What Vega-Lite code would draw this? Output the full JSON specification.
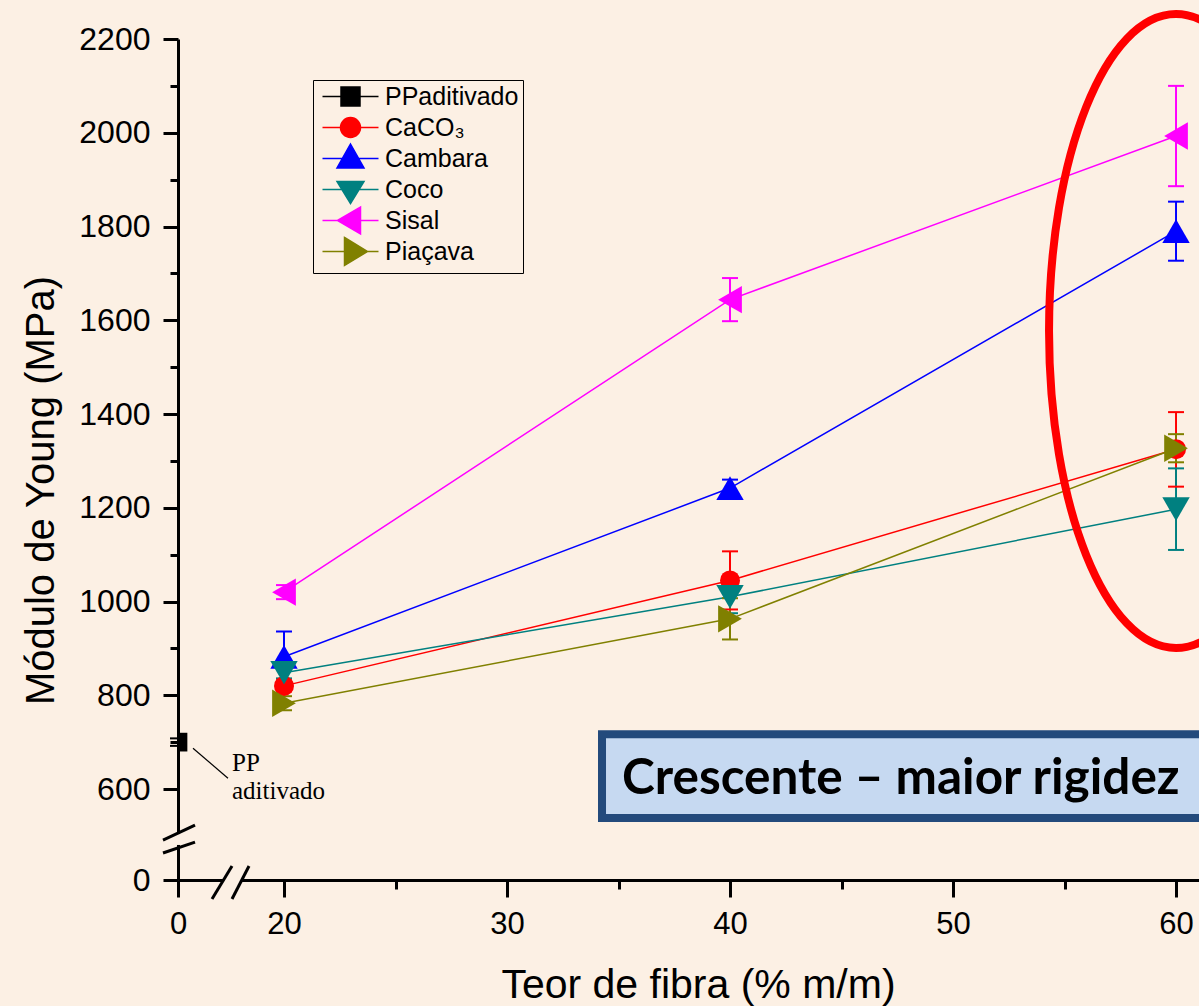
{
  "$schema": "https://vega.github.io/schema/vega-lite/v6.json",
  "width": 1021,
  "height": 841,
  "autosize": {"type": "none"},
  "padding": {"left": 178, "top": 39, "right": 0, "bottom": 126},
  "background": "#fcf0e4",
  "config": {"view": {"stroke": null}, "font": "Liberation Sans", "axis": {"grid": false}},
  "data": {
    "values": [
      {"series": "PPaditivado", "x": 0, "y": 700, "lo": 692, "hi": 708},
      {"series": "CaCO₃", "x": 20, "y": 820, "lo": 808, "hi": 832},
      {"series": "CaCO₃", "x": 40, "y": 1045, "lo": 983, "hi": 1107},
      {"series": "CaCO₃", "x": 60, "y": 1325, "lo": 1245, "hi": 1404},
      {"series": "Cambara", "x": 20, "y": 882, "lo": 828, "hi": 936},
      {"series": "Cambara", "x": 40, "y": 1242, "lo": 1224, "hi": 1260},
      {"series": "Cambara", "x": 60, "y": 1790, "lo": 1727, "hi": 1853},
      {"series": "Coco", "x": 20, "y": 848, "lo": 836, "hi": 860},
      {"series": "Coco", "x": 40, "y": 1010, "lo": 975, "hi": 1045},
      {"series": "Coco", "x": 60, "y": 1197, "lo": 1110, "hi": 1284},
      {"series": "Sisal", "x": 20, "y": 1020, "lo": 1005, "hi": 1035},
      {"series": "Sisal", "x": 40, "y": 1644, "lo": 1598, "hi": 1690},
      {"series": "Sisal", "x": 60, "y": 1993, "lo": 1886, "hi": 2100},
      {"series": "Piaçava", "x": 20, "y": 783, "lo": 768, "hi": 798},
      {"series": "Piaçava", "x": 40, "y": 963, "lo": 919, "hi": 1007},
      {"series": "Piaçava", "x": 60, "y": 1327, "lo": 1297, "hi": 1357}
    ]
  },
  "layer": [
    {
      "mark": {"type": "point", "filled": true, "size": 0, "opacity": 1},
      "encoding": {
        "x": {"field": "x", "type": "quantitative", "scale": {"domain": [0, 20, 61.03], "range": [0, 106, 1021], "nice": false, "zero": false}},
        "y": {"field": "y", "type": "quantitative", "scale": {"domain": [0, 600, 2200], "range": [841, 750, 0], "nice": false, "zero": false}},
        "color": {"field": "series", "type": "nominal",
          "scale": {"domain": ["PPaditivado", "CaCO₃", "Cambara", "Coco", "Sisal", "Piaçava"], "range": ["#000000", "#ff0000", "#0000ff", "#008080", "#ff00ff", "#808000"]},
          "legend": {"title": null, "orient": "none", "legendX": 135, "legendY": 41, "padding": 4, "gridAlign": "all", "strokeColor": "#000000", "fillColor": "#fcf0e4", "symbolSize": 400, "symbolStrokeWidth": 1.5, "symbolOffset": 21, "labelOffset": 22, "labelFont": "Liberation Sans", "labelFontSize": 25, "labelColor": "#000000", "rowPadding": -4}},
        "stroke": {"field": "series", "type": "nominal",
          "scale": {"domain": ["PPaditivado", "CaCO₃", "Cambara", "Coco", "Sisal", "Piaçava"], "range": ["#000000", "#ff0000", "#0000ff", "#008080", "#ff00ff", "#808000"]},
          "legend": {"title": null, "orient": "none", "legendX": 135, "legendY": 41, "padding": 4, "gridAlign": "all", "strokeColor": "#000000", "fillColor": "#fcf0e4", "symbolSize": 400, "symbolStrokeWidth": 1.5, "symbolOffset": 21, "labelOffset": 22, "labelFont": "Liberation Sans", "labelFontSize": 25, "labelColor": "#000000", "rowPadding": -4}},
        "shape": {"field": "series", "type": "nominal",
          "scale": {"domain": ["PPaditivado", "CaCO₃", "Cambara", "Coco", "Sisal", "Piaçava"],
            "range": [
              "M0,-1.45L0,-1.45M0,1.45L0,1.45M-2.8,0H2.8M-0.95,-0.95H0.95V0.95H-0.95Z",
              "M0,-1.45L0,-1.45M0,1.45L0,1.45M-2.8,0H2.8M-1,0C-1,-0.552,-0.552,-1,0,-1C0.552,-1,1,-0.552,1,0C1,0.552,0.552,1,0,1C-0.552,1,-1,0.552,-1,0Z",
              "M0,-1.45L0,-1.45M0,1.45L0,1.45M-2.8,0H2.8M0,-1.45L1.35,0.95H-1.35Z",
              "M0,-1.45L0,-1.45M0,1.45L0,1.45M-2.8,0H2.8M-1.35,-0.8H1.35L0,1.4Z",
              "M0,-1.45L0,-1.45M0,1.45L0,1.45M-2.8,0H2.8M-1.3,0L1,-1.35V1.35Z",
              "M0,-1.45L0,-1.45M0,1.45L0,1.45M-2.8,0H2.8M-0.6,-1.4L1.7,0L-0.6,1.4Z"
            ]},
          "legend": {"title": null, "orient": "none", "legendX": 135, "legendY": 41, "padding": 4, "gridAlign": "all", "strokeColor": "#000000", "fillColor": "#fcf0e4", "symbolSize": 400, "symbolStrokeWidth": 1.5, "symbolOffset": 21, "labelOffset": 22, "labelFont": "Liberation Sans", "labelFontSize": 25, "labelColor": "#000000", "rowPadding": -4}}
      }
    },
    {
      "data": {"values": [{}]},
      "mark": {"type": "rect", "fill": "#c6d9f1", "stroke": "#234a7c", "strokeWidth": 8},
      "encoding": {
        "x": {"datum": 34.26, "scale": {"domain": [0, 20, 61.03], "range": [0, 106, 1021], "nice": false, "zero": false}},
        "x2": {"datum": 64},
        "y": {"datum": 717, "scale": {"domain": [0, 600, 2200], "range": [841, 750, 0], "nice": false, "zero": false}},
        "y2": {"datum": 408}
      }
    },
    {
      "data": {"values": [{}]},
      "mark": {"type": "text", "text": "Crescente – maior rigidez", "font": "Lato", "fontWeight": "bold", "fontSize": 49.5, "align": "left", "baseline": "alphabetic", "color": "#000000"},
      "encoding": {
        "x": {"datum": 35.16, "scale": {"domain": [0, 20, 61.03], "range": [0, 106, 1021], "nice": false, "zero": false}},
        "y": {"datum": 566, "scale": {"domain": [0, 600, 2200], "range": [841, 750, 0], "nice": false, "zero": false}}
      }
    },
    {
      "mark": {"type": "line", "strokeWidth": 1.5},
      "encoding": {
        "x": {
          "field": "x", "type": "quantitative",
          "scale": {"domain": [0, 20, 61.03], "range": [0, 106, 1021], "nice": false, "zero": false},
          "axis": {
            "values": [0, 20, 25, 30, 35, 40, 45, 50, 55, 60],
            "format": "d",
            "labelExpr": "datum.value % 10 === 0 ? datum.label : ''",
            "tickSize": {"condition": {"test": "datum.value % 10 === 0", "value": 17}, "value": 9},
            "tickWidth": 3, "tickColor": "#000000",
            "domainColor": "#000000", "domainWidth": 3,
            "labelFont": "Liberation Sans", "labelFontSize": 31, "labelColor": "#000000", "labelPadding": 12,
            "labelFlush": false, "labelOverlap": false,
            "title": "Teor de fibra (% m/m)", "titleFont": "Liberation Sans", "titleFontSize": 41,
            "titleFontWeight": "normal", "titleColor": "#000000",
            "titleX": 520, "titleY": 117, "titleBaseline": "alphabetic", "titleAlign": "center"
          }
        },
        "y": {
          "field": "y", "type": "quantitative",
          "scale": {"domain": [0, 600, 2200], "range": [841, 750, 0], "nice": false, "zero": false},
          "axis": {
            "values": [0, 600, 700, 800, 900, 1000, 1100, 1200, 1300, 1400, 1500, 1600, 1700, 1800, 1900, 2000, 2100, 2200],
            "format": "d",
            "labelExpr": "datum.value % 200 === 0 ? datum.label : ''",
            "tickSize": {"condition": {"test": "datum.value % 200 === 0", "value": 15}, "value": 8},
            "tickWidth": 3, "tickColor": "#000000",
            "domainColor": "#000000", "domainWidth": 3,
            "labelFont": "Liberation Sans", "labelFontSize": 32, "labelColor": "#000000", "labelPadding": 13,
            "labelFlush": false, "labelOverlap": false,
            "title": "Módulo de Young (MPa)", "titleFont": "Liberation Sans", "titleFontSize": 40,
            "titleFontWeight": "normal", "titleColor": "#000000",
            "titleX": -125, "titleY": 451, "titleBaseline": "alphabetic", "titleAlign": "center", "titleAngle": 270
          }
        },
        "color": {"field": "series", "type": "nominal",
          "scale": {"domain": ["PPaditivado", "CaCO₃", "Cambara", "Coco", "Sisal", "Piaçava"], "range": ["#000000", "#ff0000", "#0000ff", "#008080", "#ff00ff", "#808000"]}}
      }
    },
    {
      "mark": {"type": "rule", "strokeWidth": 2},
      "encoding": {
        "x": {"field": "x", "type": "quantitative", "scale": {"domain": [0, 20, 61.03], "range": [0, 106, 1021], "nice": false, "zero": false}},
        "y": {"field": "lo", "type": "quantitative", "scale": {"domain": [0, 600, 2200], "range": [841, 750, 0], "nice": false, "zero": false}},
        "y2": {"field": "hi"},
        "color": {"field": "series", "type": "nominal",
          "scale": {"domain": ["PPaditivado", "CaCO₃", "Cambara", "Coco", "Sisal", "Piaçava"], "range": ["#000000", "#ff0000", "#0000ff", "#008080", "#ff00ff", "#808000"]}}
      }
    },
    {
      "mark": {"type": "tick", "orient": "horizontal", "size": 16, "thickness": 2, "opacity": 1},
      "encoding": {
        "x": {"field": "x", "type": "quantitative", "scale": {"domain": [0, 20, 61.03], "range": [0, 106, 1021], "nice": false, "zero": false}},
        "y": {"field": "lo", "type": "quantitative", "scale": {"domain": [0, 600, 2200], "range": [841, 750, 0], "nice": false, "zero": false}},
        "color": {"field": "series", "type": "nominal",
          "scale": {"domain": ["PPaditivado", "CaCO₃", "Cambara", "Coco", "Sisal", "Piaçava"], "range": ["#000000", "#ff0000", "#0000ff", "#008080", "#ff00ff", "#808000"]}}
      }
    },
    {
      "mark": {"type": "tick", "orient": "horizontal", "size": 16, "thickness": 2, "opacity": 1},
      "encoding": {
        "x": {"field": "x", "type": "quantitative", "scale": {"domain": [0, 20, 61.03], "range": [0, 106, 1021], "nice": false, "zero": false}},
        "y": {"field": "hi", "type": "quantitative", "scale": {"domain": [0, 600, 2200], "range": [841, 750, 0], "nice": false, "zero": false}},
        "color": {"field": "series", "type": "nominal",
          "scale": {"domain": ["PPaditivado", "CaCO₃", "Cambara", "Coco", "Sisal", "Piaçava"], "range": ["#000000", "#ff0000", "#0000ff", "#008080", "#ff00ff", "#808000"]}}
      }
    },
    {
      "transform": [{"filter": "datum.series === 'PPaditivado'"}],
      "mark": {"type": "point", "shape": "square", "filled": true, "size": 350, "opacity": 1, "color": "#000000", "clip": true},
      "encoding": {
        "x": {"field": "x", "type": "quantitative", "scale": {"domain": [0, 20, 61.03], "range": [0, 106, 1021], "nice": false, "zero": false}},
        "y": {"field": "y", "type": "quantitative", "scale": {"domain": [0, 600, 2200], "range": [841, 750, 0], "nice": false, "zero": false}}
      }
    },
    {
      "transform": [{"filter": "datum.series === 'CaCO₃'"}],
      "mark": {"type": "point", "shape": "circle", "filled": true, "size": 400, "opacity": 1, "color": "#ff0000"},
      "encoding": {
        "x": {"field": "x", "type": "quantitative", "scale": {"domain": [0, 20, 61.03], "range": [0, 106, 1021], "nice": false, "zero": false}},
        "y": {"field": "y", "type": "quantitative", "scale": {"domain": [0, 600, 2200], "range": [841, 750, 0], "nice": false, "zero": false}}
      }
    },
    {
      "transform": [{"filter": "datum.series === 'Cambara'"}],
      "mark": {"type": "point", "shape": "triangle-up", "filled": true, "size": 750, "opacity": 1, "color": "#0000ff"},
      "encoding": {
        "x": {"field": "x", "type": "quantitative", "scale": {"domain": [0, 20, 61.03], "range": [0, 106, 1021], "nice": false, "zero": false}},
        "y": {"field": "y", "type": "quantitative", "scale": {"domain": [0, 600, 2200], "range": [841, 750, 0], "nice": false, "zero": false}}
      }
    },
    {
      "transform": [{"filter": "datum.series === 'Coco'"}],
      "mark": {"type": "point", "shape": "triangle-down", "filled": true, "size": 750, "opacity": 1, "color": "#008080"},
      "encoding": {
        "x": {"field": "x", "type": "quantitative", "scale": {"domain": [0, 20, 61.03], "range": [0, 106, 1021], "nice": false, "zero": false}},
        "y": {"field": "y", "type": "quantitative", "scale": {"domain": [0, 600, 2200], "range": [841, 750, 0], "nice": false, "zero": false}}
      }
    },
    {
      "transform": [{"filter": "datum.series === 'Sisal'"}],
      "mark": {"type": "point", "shape": "triangle-left", "filled": true, "size": 750, "opacity": 1, "color": "#ff00ff"},
      "encoding": {
        "x": {"field": "x", "type": "quantitative", "scale": {"domain": [0, 20, 61.03], "range": [0, 106, 1021], "nice": false, "zero": false}},
        "y": {"field": "y", "type": "quantitative", "scale": {"domain": [0, 600, 2200], "range": [841, 750, 0], "nice": false, "zero": false}}
      }
    },
    {
      "transform": [{"filter": "datum.series === 'Piaçava'"}],
      "mark": {"type": "point", "shape": "triangle-right", "filled": true, "size": 750, "opacity": 1, "color": "#808000"},
      "encoding": {
        "x": {"field": "x", "type": "quantitative", "scale": {"domain": [0, 20, 61.03], "range": [0, 106, 1021], "nice": false, "zero": false}},
        "y": {"field": "y", "type": "quantitative", "scale": {"domain": [0, 600, 2200], "range": [841, 750, 0], "nice": false, "zero": false}}
      }
    },
    {
      "data": {"values": [{}]},
      "mark": {"type": "rule", "strokeWidth": 1.2, "color": "#000000"},
      "encoding": {
        "x": {"datum": 2.83, "scale": {"domain": [0, 20, 61.03], "range": [0, 106, 1021], "nice": false, "zero": false}},
        "x2": {"datum": 9.43},
        "y": {"datum": 687, "scale": {"domain": [0, 600, 2200], "range": [841, 750, 0], "nice": false, "zero": false}},
        "y2": {"datum": 623}
      }
    },
    {
      "data": {"values": [{}]},
      "mark": {"type": "text", "text": ["PP", "aditivado"], "font": "Liberation Serif", "fontSize": 25, "lineHeight": 28, "align": "left", "baseline": "alphabetic", "color": "#000000"},
      "encoding": {
        "x": {"datum": 10.19, "scale": {"domain": [0, 20, 61.03], "range": [0, 106, 1021], "nice": false, "zero": false}},
        "y": {"datum": 638, "scale": {"domain": [0, 600, 2200], "range": [841, 750, 0], "nice": false, "zero": false}}
      }
    },
    {
      "data": {"values": [{}]},
      "mark": {"type": "rule", "strokeWidth": 7, "color": "#fcf0e4"},
      "encoding": {
        "x": {"datum": 0, "scale": {"domain": [0, 20, 61.03], "range": [0, 106, 1021], "nice": false, "zero": false}},
        "y": {"datum": 231, "scale": {"domain": [0, 600, 2200], "range": [841, 750, 0], "nice": false, "zero": false}},
        "y2": {"datum": 303}
      }
    },
    {
      "data": {"values": [{}]},
      "mark": {"type": "rule", "strokeWidth": 7, "color": "#fcf0e4"},
      "encoding": {
        "x": {"datum": 8.49, "scale": {"domain": [0, 20, 61.03], "range": [0, 106, 1021], "nice": false, "zero": false}},
        "x2": {"datum": 12.08},
        "y": {"datum": 0, "scale": {"domain": [0, 600, 2200], "range": [841, 750, 0], "nice": false, "zero": false}}
      }
    },
    {
      "data": {"values": [{}]},
      "mark": {"type": "rule", "strokeWidth": 3, "color": "#000000"},
      "encoding": {
        "x": {"datum": -2.83, "scale": {"domain": [0, 20, 61.03], "range": [0, 106, 1021], "nice": false, "zero": false}},
        "x2": {"datum": 3.21},
        "y": {"datum": 263, "scale": {"domain": [0, 600, 2200], "range": [841, 750, 0], "nice": false, "zero": false}},
        "y2": {"datum": 362}
      }
    },
    {
      "data": {"values": [{}]},
      "mark": {"type": "rule", "strokeWidth": 3, "color": "#000000"},
      "encoding": {
        "x": {"datum": -2.83, "scale": {"domain": [0, 20, 61.03], "range": [0, 106, 1021], "nice": false, "zero": false}},
        "x2": {"datum": 3.21},
        "y": {"datum": 178, "scale": {"domain": [0, 600, 2200], "range": [841, 750, 0], "nice": false, "zero": false}},
        "y2": {"datum": 250}
      }
    },
    {
      "data": {"values": [{}]},
      "mark": {"type": "rule", "strokeWidth": 3, "color": "#000000"},
      "encoding": {
        "x": {"datum": 6.42, "scale": {"domain": [0, 20, 61.03], "range": [0, 106, 1021], "nice": false, "zero": false}},
        "x2": {"datum": 10.19},
        "y": {"datum": -125, "scale": {"domain": [0, 600, 2200], "range": [841, 750, 0], "nice": false, "zero": false}},
        "y2": {"datum": 92}
      }
    },
    {
      "data": {"values": [{}]},
      "mark": {"type": "rule", "strokeWidth": 3, "color": "#000000"},
      "encoding": {
        "x": {"datum": 10.19, "scale": {"domain": [0, 20, 61.03], "range": [0, 106, 1021], "nice": false, "zero": false}},
        "x2": {"datum": 13.4},
        "y": {"datum": -125, "scale": {"domain": [0, 600, 2200], "range": [841, 750, 0], "nice": false, "zero": false}},
        "y2": {"datum": 92}
      }
    },
    {
      "data": {"values": [{}]},
      "mark": {"type": "point", "filled": false, "opacity": 1, "stroke": "#ff0000", "strokeWidth": 8, "size": 64516,
        "shape": "M0,-2.496C0.5523,-2.496,1,-1.3786,1,0C1,1.3786,0.5523,2.496,0,2.496C-0.5523,2.496,-1,1.3786,-1,0C-1,-1.3786,-0.5523,-2.496,0,-2.496Z"},
      "encoding": {
        "x": {"datum": 60, "scale": {"domain": [0, 20, 61.03], "range": [0, 106, 1021], "nice": false, "zero": false}},
        "y": {"datum": 1577, "scale": {"domain": [0, 600, 2200], "range": [841, 750, 0], "nice": false, "zero": false}}
      }
    }
  ]
}
